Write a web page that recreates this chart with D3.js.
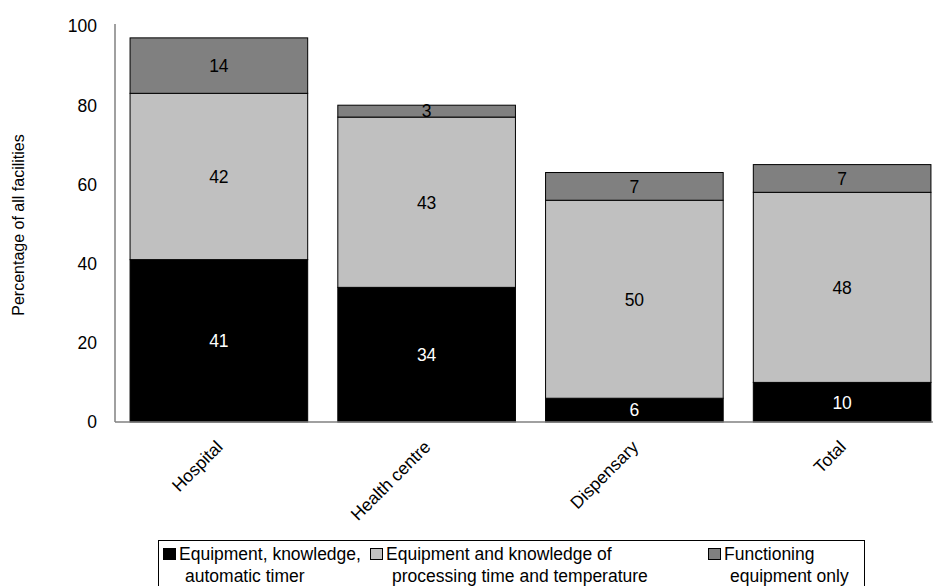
<!DOCTYPE html>
<html>
<head>
<meta charset="utf-8">
<script src="https://cdn.jsdelivr.net/npm/d3@7"></script>
<style>
  body { margin: 0; background: #fff; }
  svg { display: block; font-family: "Liberation Sans", Arial, sans-serif; }
</style>
</head>
<body>
<svg id="chart" width="933" height="586"></svg>
<script>
// data
let categories = ['Hospital', 'Health centre', 'Dispensary', 'Total'];
let timer = [41, 34, 6, 10];
let timeTemp = [42, 43, 50, 48];
let equipOnly = [14, 3, 7, 7];
let yTicks = [0, 20, 40, 60, 80, 100];
let seriesNames = [
    ['Equipment, knowledge,', 'automatic timer'],
    ['Equipment and knowledge of', 'processing time and temperature'],
    ['Functioning', 'equipment only']
];
let colors = ['#000000', '#c0c0c0', '#808080'];
let labelColors = ['#ffffff', '#000000', '#000000'];

let svg = d3.select('#chart');
let fontSize = 17.5;

let x = d3.scaleBand()
    .domain(categories)
    .range([115, 946])
    .paddingInner(0.145)
    .paddingOuter(0.0725);

let y = d3.scaleLinear()
    .domain([0, 100])
    .range([422, 26]);

// stack the three series
let rows = categories.map(function (c, i) {
    return { cat: c, s0: timer[i], s1: timeTemp[i], s2: equipOnly[i] };
});
let stack = d3.stack().keys(['s0', 's1', 's2']);
let layers = stack(rows);

let g = svg.append('g');
layers.forEach(function (layer, li) {
    let seg = g.selectAll('g.seg' + li)
        .data(layer)
        .enter()
        .append('g');
    seg.append('rect')
        .attr('x', function (d) { return x(d.data.cat); })
        .attr('y', function (d) { return y(d[1]); })
        .attr('width', x.bandwidth())
        .attr('height', function (d) { return y(d[0]) - y(d[1]); })
        .attr('fill', colors[li])
        .attr('stroke', '#000')
        .attr('stroke-width', 1);
    seg.append('text')
        .attr('x', function (d) { return x(d.data.cat) + x.bandwidth() / 2; })
        .attr('y', function (d) { return (y(d[0]) + y(d[1])) / 2; })
        .attr('dy', '0.36em')
        .attr('text-anchor', 'middle')
        .attr('font-size', fontSize)
        .attr('fill', labelColors[li])
        .text(function (d) { return d[1] - d[0]; });
});

// axes
svg.append('line')
    .attr('x1', 115).attr('x2', 115)
    .attr('y1', y(100) - 2).attr('y2', y(0))
    .attr('stroke', '#808080').attr('stroke-width', 1.5);
svg.append('line')
    .attr('x1', 115).attr('x2', 933)
    .attr('y1', y(0)).attr('y2', y(0))
    .attr('stroke', '#808080').attr('stroke-width', 1.5);

svg.selectAll('text.ytick')
    .data(yTicks)
    .enter()
    .append('text')
    .attr('class', 'ytick')
    .attr('x', 97)
    .attr('y', function (d) { return y(d); })
    .attr('dy', '0.36em')
    .attr('text-anchor', 'end')
    .attr('font-size', fontSize)
    .text(function (d) { return d; });

svg.selectAll('text.xtick')
    .data(categories)
    .enter()
    .append('text')
    .attr('class', 'xtick')
    .attr('text-anchor', 'end')
    .attr('font-size', fontSize)
    .attr('transform', function (d) {
        return 'translate(' + (x(d) + x.bandwidth() / 2 + 5) + ',' + 448 + ') rotate(-45)';
    })
    .text(function (d) { return d; });

svg.append('text')
    .attr('transform', 'translate(24,225) rotate(-90)')
    .attr('text-anchor', 'middle')
    .attr('font-size', 16)
    .text('Percentage of all facilities');

// legend
let legend = svg.append('g');
legend.append('rect')
    .attr('x', 158.5).attr('y', 540.5)
    .attr('width', 706).attr('height', 60)
    .attr('fill', 'none')
    .attr('stroke', '#000')
    .attr('stroke-width', 1);
let legendX = [163, 370, 708];
seriesNames.forEach(function (name, i) {
    legend.append('rect')
        .attr('x', legendX[i] + 0.5).attr('y', 548.5)
        .attr('width', 12).attr('height', 11)
        .attr('fill', colors[i])
        .attr('stroke', '#000')
        .attr('stroke-width', 1);
    legend.append('text')
        .attr('x', legendX[i] + 16)
        .attr('y', 560)
        .attr('font-size', fontSize)
        .text(name[0]);
    legend.append('text')
        .attr('x', legendX[i] + 22)
        .attr('y', 582)
        .attr('font-size', fontSize)
        .text(name[1]);
});
</script>
</body>
</html>
